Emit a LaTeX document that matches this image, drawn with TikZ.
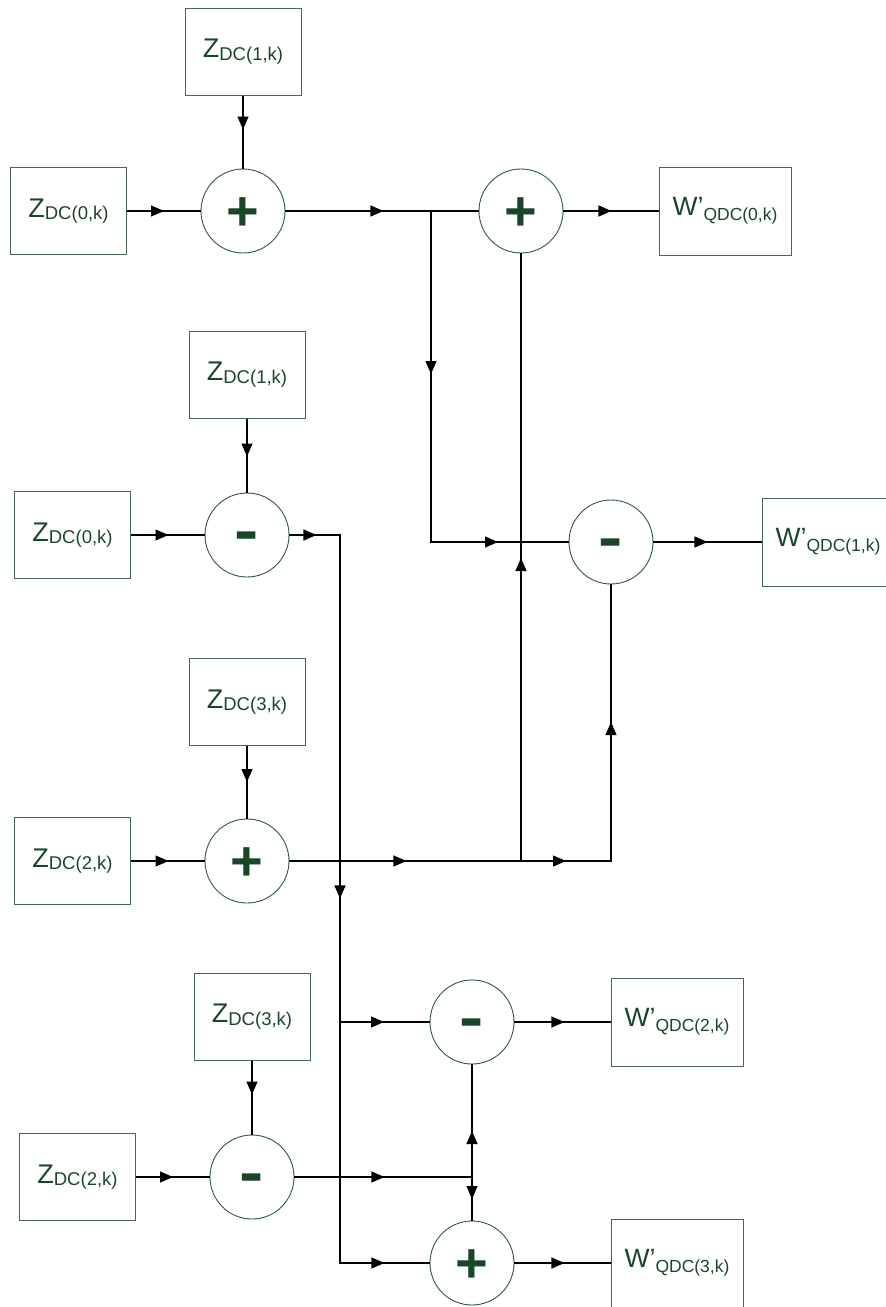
\documentclass[tikz,border=0pt]{standalone}
\usepackage{fontspec}
\setmainfont{Liberation Sans}
\usetikzlibrary{arrows.meta,decorations.markings}
\definecolor{boxc}{RGB}{70,105,80}
\definecolor{circc}{RGB}{45,90,60}
\definecolor{txtc}{RGB}{25,70,40}
\newcommand\zt[1]{{\fontsize{27}{27}\selectfont Z}\raisebox{-2.5pt}{\fontsize{18.5}{18.5}\selectfont DC(#1,k)}}
\newcommand\wt[1]{{\fontsize{26.5}{26.5}\selectfont W’}\raisebox{-5pt}{\fontsize{17.5}{17.5}\selectfont QDC(#1,k)}}
\newcommand\plussign{\raisebox{-0.34em}[0pt][0pt]{\bfseries +}}
\newcommand\minussign{\raisebox{-0.29em}[0pt][0pt]{\scalebox{1.3}[1.1]{\bfseries -}}}
\tikzset{
  zbox/.style={draw=boxc, line width=1pt, minimum width=116pt, minimum height=87pt, inner sep=0pt, text=txtc},
  wbox/.style={zbox, minimum width=132pt, minimum height=88pt},
  sumc/.style={circle, draw=circc, line width=0.9pt, minimum size=84pt, inner sep=0pt, text=txtc, font=\fontsize{56}{56}\selectfont},
  conn/.style={line width=1.1pt, black},
  ar/.style={postaction={decorate, decoration={markings, mark=at position #1 with {\arrow{Triangle[length=13pt,width=11pt]}}}}},
}
\begin{document}
\begin{tikzpicture}[x=1pt, y=-1pt]
\clip (0,0) rectangle (886,1307);
% top section
\node[zbox] (zA1) at (243,51.5) {\zt{1}};
\node[zbox] (zA0) at (68.5,211) {\zt{0}};
\node[sumc] (sA) at (243,211) {\plussign};
\node[sumc] (sB) at (521,211) {\plussign};
\node[wbox] (wA) at (725,211) {\wt{0}};
\node[sumc] (sC) at (611,542) {\minussign};
\node[wbox] (wB) at (828,542) {\wt{1}};
% middle section
\node[zbox] (zB1) at (247,374.5) {\zt{1}};
\node[zbox] (zB0) at (72.5,535) {\zt{0}};
\node[sumc] (sD) at (247,535) {\minussign};
\node[zbox] (zB3) at (247,702) {\zt{3}};
\node[zbox] (zB2) at (72.5,861) {\zt{2}};
\node[sumc] (sE) at (247,861) {\plussign};
% bottom section
\node[zbox] (zC3) at (252,1016.5) {\zt{3}};
\node[zbox] (zC2) at (77.5,1177) {\zt{2}};
\node[sumc] (sF) at (252,1177) {\minussign};
\node[sumc] (sG) at (472,1022) {\minussign};
\node[sumc] (sH) at (472,1263) {\plussign};
\node[wbox] (wC) at (677,1022) {\wt{2}};
\node[wbox] (wD) at (677,1263) {\wt{3}};
% junctions
\coordinate (j1) at (431,211);
\coordinate (j2) at (340,535);
\coordinate (j3) at (521,861);
\coordinate (j4) at (472,1177);
\coordinate (j5) at (340,1022);
\coordinate (c11) at (340,1263);
% connectors top
\draw[conn, ar=34pt] (zA1.south) -- (sA.north);
\draw[conn, ar=37pt] (zA0.east) -- (sA.west);
\draw[conn, ar=98pt] (sA.east) -- (sB.west);
\draw[conn, ar=163pt, ar=398pt] (j1) |- (sC.west);
\draw[conn, ar=48pt] (sB.east) -- (wA.west);
\draw[conn, ar=54pt] (sC.east) -- (wB.west);
\draw[conn, ar=303pt] (j3) -- (sB.south);
\draw[conn, ar=45pt, ar=229pt] (j3) -| (sC.south);
% connectors middle
\draw[conn, ar=38pt] (zB1.south) -- (sD.north);
\draw[conn, ar=37.5pt] (zB0.east) -- (sD.west);
\draw[conn, ar=27pt, ar=414pt, ar=823pt] (sD.east) -- (j2) -- (c11) -- (sH.west);
\draw[conn, ar=44pt] (j5) -- (sG.west);
\draw[conn, ar=36pt] (zB3.south) -- (sE.north);
\draw[conn, ar=37.5pt] (zB2.east) -- (sE.west);
\draw[conn, ar=117pt] (sE.east) -- (j3);
% connectors bottom
\draw[conn, ar=34pt] (zC3.south) -- (sF.north);
\draw[conn, ar=37pt] (zC2.east) -- (sF.west);
\draw[conn, ar=90pt] (sF.east) -- (j4);
\draw[conn, ar=46pt] (j4) -- (sG.south);
\draw[conn, ar=22pt] (j4) -- (sH.north);
\draw[conn, ar=50pt] (sG.east) -- (wC.west);
\draw[conn, ar=50pt] (sH.east) -- (wD.west);
\end{tikzpicture}
\end{document}
